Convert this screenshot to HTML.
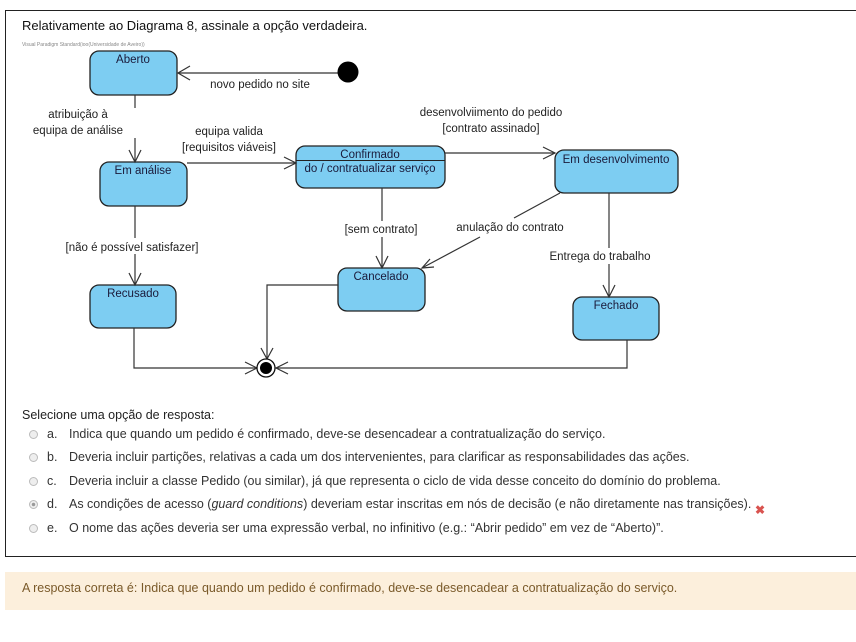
<!DOCTYPE html>
<html><head><meta charset="utf-8">
<style>
body{margin:0;width:856px;height:642px;background:#fff;position:relative;overflow:hidden;font-family:"Liberation Sans",Arial,sans-serif;color:#222}
.box{position:absolute;left:5px;top:10px;width:856px;height:547px;border:1px solid #222;box-sizing:border-box}
.t{position:absolute;white-space:nowrap}
.opt{position:absolute;left:0;font-size:12.5px;color:#333;white-space:nowrap}
.opt .r{position:absolute;left:29px;top:3px;width:9px;height:9px;border-radius:50%;border:1px solid #bbb;background:#eee;box-sizing:border-box}
.opt .l{position:absolute;left:47px}
.opt .x{position:absolute;left:69px}
.fb{position:absolute;left:5px;top:572px;width:851px;height:38px;background:#fcefdc;font-size:12.5px;color:#7a5a2a}
</style></head><body>
<div class="box"></div>
<div class="t" style="left:22px;top:18px;font-size:13px;color:#111">Relativamente ao Diagrama 8, assinale a opção verdadeira.</div>
<div class="t" style="left:22px;top:42px;font-size:5px;color:#888">Visual Paradigm Standard(ioo(Universidade de Aveiro))</div>
<svg style="position:absolute;left:0;top:0" width="856" height="400" font-family="Liberation Sans,Arial,sans-serif" font-size="11.5">
<g fill="#7dcdf2" stroke="#222" stroke-width="1.3">
<rect x="90" y="51" width="87" height="44" rx="9"/>
<rect x="100" y="162" width="87" height="44" rx="9"/>
<rect x="296" y="146" width="149" height="42" rx="9"/>
<rect x="555" y="150" width="123" height="43" rx="9"/>
<rect x="338" y="268" width="87" height="43" rx="9"/>
<rect x="573" y="297" width="86" height="43" rx="9"/>
<rect x="90" y="285" width="86" height="43" rx="9"/>
</g>
<line x1="296" y1="160.5" x2="445" y2="160.5" stroke="#222" stroke-width="1"/>
<g fill="#1a1a3a" text-anchor="middle" font-size="11.5">
<text x="133" y="63">Aberto</text>
<text x="143" y="174">Em análise</text>
<text x="370" y="158">Confirmado</text>
<text x="370" y="172">do / contratualizar serviço</text>
<text x="616" y="163">Em desenvolvimento</text>
<text x="381" y="280">Cancelado</text>
<text x="616" y="309">Fechado</text>
<text x="133" y="297">Recusado</text>
</g>
<g fill="#222" text-anchor="middle" font-size="11.5">
<text x="260" y="88">novo pedido no site</text>
<text x="78" y="118">atribuição à</text>
<text x="78" y="134">equipa de análise</text>
<text x="229" y="135">equipa valida</text>
<text x="229" y="151">[requisitos viáveis]</text>
<text x="491" y="116">desenvolviimento do pedido</text>
<text x="491" y="132">[contrato assinado]</text>
<text x="381" y="233">[sem contrato]</text>
<text x="510" y="231">anulação do contrato</text>
<text x="600" y="260">Entrega do trabalho</text>
<text x="132" y="251">[não é possível satisfazer]</text>
</g>
<g stroke="#333" stroke-width="1.2" fill="none">
<line x1="338" y1="73" x2="178" y2="73"/><polyline points="190,66 178,73 190,80"/>
<line x1="135" y1="95" x2="135" y2="108"/><line x1="135" y1="138" x2="135" y2="162"/><polyline points="129,150 135,162 141,150"/>
<line x1="187" y1="163" x2="296" y2="163"/><polyline points="284,157 296,163 284,169"/>
<line x1="445" y1="153" x2="555" y2="153"/><polyline points="543,147 555,153 543,159"/>
<line x1="382" y1="188" x2="382" y2="221"/><line x1="382" y1="237" x2="382" y2="268"/><polyline points="376,256 382,268 388,256"/>
<line x1="560" y1="193" x2="514" y2="218"/><line x1="480" y1="237" x2="422" y2="268"/><polyline points="430,259 422,268 434,267"/>
<line x1="609" y1="193" x2="609" y2="248"/><line x1="609" y1="264" x2="609" y2="297"/><polyline points="603,285 609,297 615,285"/>
<line x1="135" y1="206" x2="135" y2="238"/><line x1="135" y1="254" x2="135" y2="285"/><polyline points="129,273 135,285 141,273"/>
<polyline points="134,328 134,368 257,368"/><polyline points="245,362 257,368 245,374"/>
<polyline points="338,285 267,285 267,359"/><polyline points="261,348 267,359 273,348"/>
<polyline points="627,340 627,368 276,368"/><polyline points="288,362 276,368 288,374"/>
</g>
<circle cx="348" cy="72" r="10.5" fill="#000"/>
<circle cx="266" cy="368" r="9" fill="#fff" stroke="#111" stroke-width="1.3"/>
<circle cx="266" cy="368" r="6" fill="#000"/>
</svg>
<div class="t" style="left:22px;top:408px;font-size:12.5px;color:#222">Selecione uma opção de resposta:</div>
<div class="opt" style="top:427px"><span class="r"></span><span class="l">a.</span><span class="x">Indica que quando um pedido é confirmado, deve-se desencadear a contratualização do serviço.</span></div>
<div class="opt" style="top:450px"><span class="r"></span><span class="l">b.</span><span class="x">Deveria incluir partições, relativas a cada um dos intervenientes, para clarificar as responsabilidades das ações.</span></div>
<div class="opt" style="top:474px"><span class="r"></span><span class="l">c.</span><span class="x">Deveria incluir a classe Pedido (ou similar), já que representa o ciclo de vida desse conceito do domínio do problema.</span></div>
<div class="opt" style="top:497px"><span class="r" style="background:radial-gradient(#999 30%,#eee 40%)"></span><span class="l">d.</span><span class="x">As condições de acesso (<i>guard conditions</i>) deveriam estar inscritas em nós de decisão (e não diretamente nas transições).</span></div>
<div class="t" style="left:755px;top:503px;font-size:12px;color:#d9534f;font-weight:bold">✖</div>
<div class="opt" style="top:521px"><span class="r"></span><span class="l">e.</span><span class="x">O nome das ações deveria ser uma expressão verbal, no infinitivo (e.g.: “Abrir pedido” em vez de “Aberto)”.</span></div>
<div class="fb"><span class="t" style="left:17px;top:9px">A resposta correta é: Indica que quando um pedido é confirmado, deve-se desencadear a contratualização do serviço.</span></div>
</body></html>
